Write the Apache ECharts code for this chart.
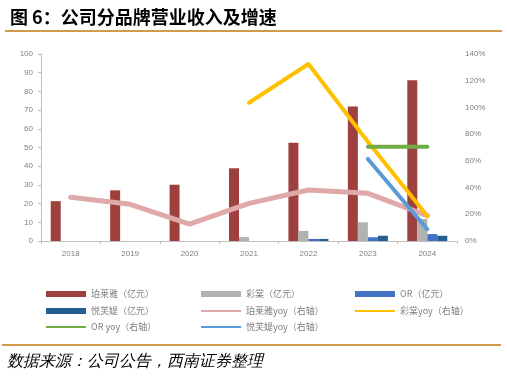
<!DOCTYPE html>
<html><head><meta charset="utf-8">
<script src="https://cdn.jsdelivr.net/npm/echarts@6/dist/echarts.min.js"></script>
<style>html,body{margin:0;padding:0;background:#fff}#c{width:507px;height:378px}</style>
</head><body><div id="c"></div>
<script>
const years = ['2018','2019','2020','2021','2022','2023','2024'];
const leftTicks = {min:0, max:100, interval:10};
const rightTicks = {min:0, max:140, interval:20};
const plyRev = [21.3, 27.1, 30.1, 38.9, 52.6, 71.9, 86.0];
const ctRev = [null, null, null, 2.1, 5.4, 10.0, 11.8];
const orRev = [null, null, null, null, 1.1, 2.0, 3.7];
const yfmRev = [null, null, null, null, 1.1, 2.8, 2.8];
const plyYoy = [32.7, 27.5, 12.7, 28.2, 38.2, 35.7, 19.0];
const ctYoy = [null, null, null, 103.5, 132.5, 74.3, 18.7];
const orYoy = [null, null, null, null, null, 70.6, 70.6];
const yfmYoy = [null, null, null, null, null, 61.4, 8.8];
const names = ['珀莱雅（亿元）','彩棠（亿元）','OR（亿元）','悦芙媞（亿元）','珀莱雅yoy（右轴）','彩棠yoy（右轴）','OR yoy（右轴）','悦芙媞yoy（右轴）'];

const colors = ['#9E403D','#B2B2B2','#4472C4','#255E91','#DEA9A8','#FFC000','#70AD47','#5B9BD5'];
const font = "'Liberation Sans','DejaVu Sans',sans-serif";
const lblColor = '#7F7F7F';

const legendPos = [[46,294],[201,294],[355,294],[46,311],[201,311],[355,311],[46,327],[201,327]];
const legends = names.map((n,i)=>({
  data:[n], left:legendPos[i][0], top:legendPos[i][1]-6, padding:0,
  itemWidth:40, itemHeight: i<4 ? 6 : 2, icon:'rect', selectedMode:false,
  textStyle:{fontSize:9, color:lblColor, lineHeight:12, fontFamily:"'Noto Sans CJK SC',sans-serif"}
}));

const chart = echarts.init(document.getElementById('c'), null, {renderer:'canvas'});
const barS = (i,d)=>({name:names[i], type:'bar', yAxisIndex:0, data:d, barWidth:10, barGap:'0%',
  itemStyle:{color:colors[i]}});
const lineS = (i,d,w)=>({name:names[i], type:'line', yAxisIndex:1, data:d, showSymbol:false, symbol:'none',
  lineStyle:{color:colors[i], width:w, cap:'round', join:'round'}, itemStyle:{color:colors[i]}, z:5});
chart.setOption({
  animation:false,
  color:colors,
  title:{text:'图 6：公司分品牌营业收入及增速', left:5, top:3,
    textStyle:{fontSize:18, fontWeight:'bold', color:'#000', fontFamily:"'Noto Sans CJK SC',sans-serif"}},
  legend:legends,
  grid:{left:41, right:50, top:54, bottom:137, containLabel:false},
  xAxis:{type:'category', data:years, boundaryGap:true,
    axisLine:{lineStyle:{color:'#BFBFBF'}},
    axisTick:{show:true, length:3, lineStyle:{color:'#BFBFBF'}},
    axisLabel:{fontSize:8, color:lblColor, margin:9, fontFamily:font}},
  yAxis:[
    {type:'value', min:leftTicks.min, max:leftTicks.max, interval:leftTicks.interval, splitLine:{show:false},
     axisLine:{show:true, lineStyle:{color:'#BFBFBF'}}, axisTick:{show:true, length:3, lineStyle:{color:'#BFBFBF'}},
     axisLabel:{fontSize:8, color:lblColor, margin:8, fontFamily:font}},
    {type:'value', min:rightTicks.min, max:rightTicks.max, interval:rightTicks.interval, splitLine:{show:false},
     axisLine:{show:false}, axisTick:{show:false},
     axisLabel:{fontSize:8, color:lblColor, margin:8, fontFamily:font, formatter:'{value}%'}}
  ],
  series:[
    barS(0,plyRev), barS(1,ctRev), barS(2,orRev), barS(3,yfmRev),
    lineS(4,plyYoy,5), lineS(5,ctYoy,4), lineS(6,orYoy,4), lineS(7,yfmYoy,4)
  ],
  graphic:[
    {type:'line', shape:{x1:5,y1:31,x2:502,y2:31}, style:{stroke:'#D29B4C', lineWidth:2}},
    {type:'line', shape:{x1:2,y1:345,x2:501,y2:345}, style:{stroke:'#D29B4C', lineWidth:2}},
    {type:'text', left:7, top:354, style:{text:'数据来源：公司公告，西南证券整理', fontSize:16, fontStyle:'italic',
      fill:'#000', font:"italic 16px 'Noto Sans CJK SC',sans-serif"}}
  ]
});
</script></body></html>
